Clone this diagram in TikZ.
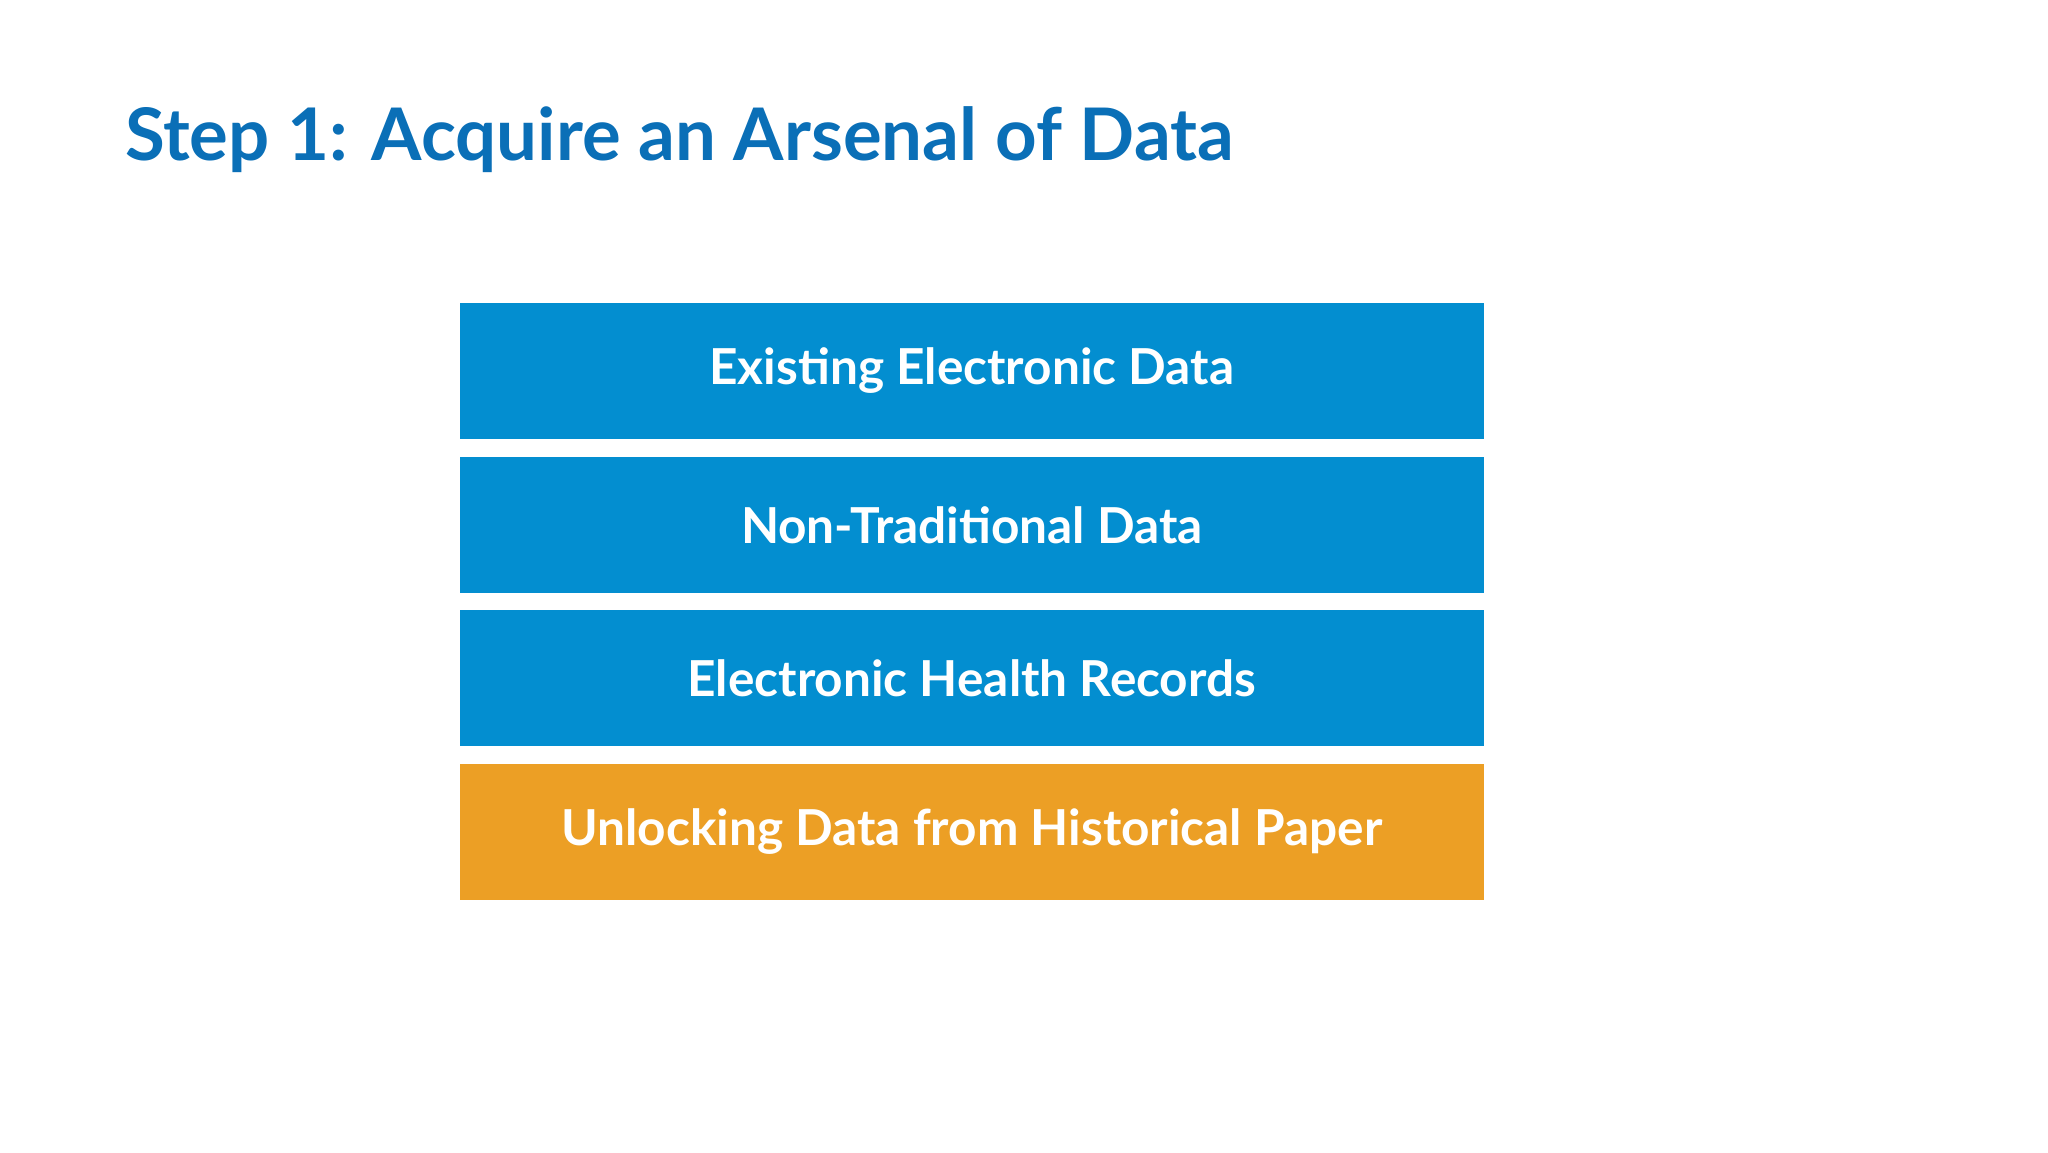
\documentclass[tikz,border=0pt]{standalone}
\usepackage{fontspec}
\setmainfont{Lato}
\definecolor{tblue}{HTML}{0A6FB7}
\definecolor{bblue}{HTML}{038ED0}
\definecolor{borange}{HTML}{EC9F25}
\tikzset{bar/.style={fill=bblue,draw=none,minimum width=7.84cm,minimum height=1.04cm,inner sep=0pt,text=white,font=\fontsize{10.8pt}{12pt}\selectfont\bfseries}}
\begin{document}
\begin{tikzpicture}
\useasboundingbox[fill=white] (0,0) rectangle (15.68,-8.82);
\node[anchor=base west,inner sep=0pt,text=tblue,font=\fontsize{15.8pt}{18pt}\selectfont\bfseries] (title) at (0.95,-1.23) {Step 1: Acquire an Arsenal of Data};
\node[bar] (b1) at (7.44,-2.84) {Existing Electronic Data};
\node[bar] (b2) at (7.44,-4.02) {Non-Traditional Data};
\node[bar] (b3) at (7.44,-5.19) {Electronic Health Records};
\node[bar,fill=borange] (b4) at (7.44,-6.37) {Unlocking Data from Historical Paper};
\end{tikzpicture}
\end{document}
